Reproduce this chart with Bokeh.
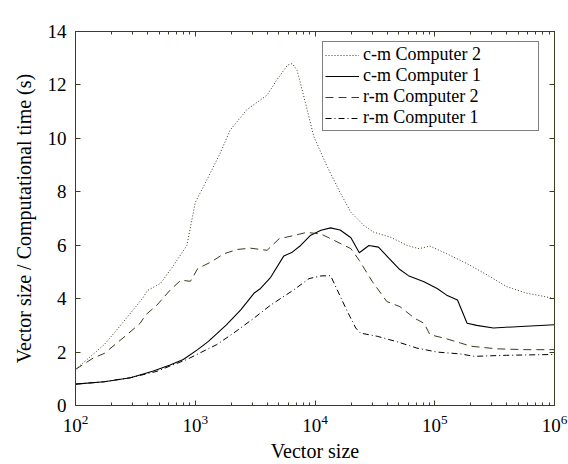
from bokeh.plotting import figure
from bokeh.models import Range1d, LinearAxis, LogAxis, Label, Legend, LegendItem, FixedTicker
from bokeh.embed import file_html
from bokeh.resources import INLINE

# ---- data (y in units of 1e6) ----
cm2_x = [100, 174, 240, 363, 398, 513, 661, 851, 1000, 1259, 1622, 1950, 2692, 3508, 3981, 4786,
         5888, 6457, 7079, 7943, 9772, 12589, 16218, 19953, 25704, 30903, 42658, 58884, 74131,
         91201, 125893, 186209, 275423, 398107, 588844, 724436, 1000000]
cm2_y = [1.35, 2.28, 3.02, 4.01, 4.30, 4.57, 5.25, 5.99, 7.6, 8.47, 9.46, 10.3, 11.07, 11.44, 11.62,
         12.18, 12.74, 12.8, 12.55, 11.69, 10.07, 8.96, 7.97, 7.23, 6.73, 6.49, 6.3, 5.99, 5.87,
         5.97, 5.68, 5.31, 4.88, 4.45, 4.2, 4.13, 4.0]

cm1_x = [100, 174, 288, 447, 617, 794, 1047, 1288, 1820, 2399, 3090, 3508, 4266, 5495, 6457, 7586,
         9120, 11220, 13490, 16218, 19953, 23442, 28184, 33884, 41687, 50119, 60256, 81283, 104713,
         125893, 154882, 186209, 223872, 309030, 524807, 1000000]
cm1_y = [0.80, 0.89, 1.04, 1.29, 1.52, 1.72, 2.09, 2.4, 3.02, 3.58, 4.2, 4.38, 4.8, 5.6, 5.74, 5.99,
         6.36, 6.56, 6.65, 6.57, 6.28, 5.72, 5.99, 5.93, 5.5, 5.12, 4.86, 4.63, 4.38, 4.13, 3.95,
         3.08, 3.0, 2.9, 2.96, 3.02]

rm2_x = [100, 141, 174, 269, 347, 385, 479, 617, 759, 912, 1047, 1349, 1738, 2239, 2884, 3981, 5012,
         6607, 8511, 11220, 14454, 19953, 23442, 30200, 39811, 51286, 67608, 81283, 91201, 120226,
         164059, 199526, 331131, 588844, 1000000]
rm2_y = [1.35, 1.78, 1.95, 2.65, 3.08, 3.39, 3.76, 4.32, 4.69, 4.65, 5.12, 5.37, 5.68, 5.84, 5.89,
         5.81, 6.24, 6.36, 6.48, 6.42, 6.18, 5.87, 5.43, 4.63, 3.89, 3.7, 3.27, 3.08, 2.65, 2.52,
         2.34, 2.22, 2.12, 2.09, 2.09]

rm1_x = [100, 174, 288, 479, 617, 851, 1096, 1514, 2089, 3090, 4266, 6607, 8913, 11220, 13490, 15136,
         18621, 21878, 23988, 33113, 48978, 70795, 104713, 164059, 213796, 398107, 1000000]
rm1_y = [0.80, 0.89, 1.04, 1.28, 1.48, 1.72, 1.97, 2.28, 2.71, 3.27, 3.76, 4.32, 4.75, 4.85, 4.86,
         4.38, 3.52, 2.9, 2.71, 2.59, 2.38, 2.15, 2.0, 1.93, 1.84, 1.88, 1.91]

series_names = ["c-m Computer 2", "c-m Computer 1", "r-m Computer 2", "r-m Computer 1"]
x_ticks = [100, 1000, 10000, 100000, 1000000]
y_ticks = [0, 2, 4, 6, 8, 10, 12, 14]

OLIVE = "#3c3c1e"
FONT = "'Liberation Serif', 'DejaVu Serif', serif"

p = figure(width=568, height=464, x_axis_type="log",
           x_range=Range1d(1e2, 1e6), y_range=Range1d(0, 14),
           output_backend="svg", toolbar_location=None,
           min_border_left=75, min_border_right=14, min_border_top=31, min_border_bottom=56)
p.grid.visible = False
p.outline_line_color = OLIVE
p.outline_line_width = 1
p.background_fill_color = "white"
p.border_fill_color = "white"

minor = [m * d for d in [100, 1000, 10000, 100000] for m in range(2, 10)]
xt = FixedTicker(ticks=x_ticks, minor_ticks=minor)
yt = FixedTicker(ticks=y_ticks, minor_ticks=[])

r1 = p.line(cm2_x, cm2_y, line_color=OLIVE, line_width=1, line_dash="1 2")
r2 = p.line(cm1_x, cm1_y, line_color="black", line_width=1.1)
r3 = p.line(rm2_x, rm2_y, line_color=OLIVE, line_width=1, line_dash="8 5")
r4 = p.line(rm1_x, rm1_y, line_color="black", line_width=1, line_dash="6 3 1 3")

def style_axis(ax, labels=True):
    ax.axis_line_color = OLIVE
    ax.major_tick_line_color = OLIVE
    ax.minor_tick_line_color = OLIVE
    ax.major_tick_in = 5
    ax.major_tick_out = 0
    ax.minor_tick_in = 3
    ax.minor_tick_out = 0
    ax.major_label_text_font = FONT
    ax.major_label_text_color = "black"
    ax.axis_label_text_font = FONT
    ax.axis_label_text_font_style = "normal"
    ax.axis_label_text_color = "black"
    if labels:
        ax.major_label_text_font_size = "19px"
        ax.axis_label_text_font_size = "20px"
        ax.major_label_standoff = 9
    else:
        ax.major_label_text_font_size = "1px"
        ax.major_label_text_alpha = 0
        ax.major_label_standoff = 0

xa = p.xaxis[0]
xa.ticker = xt
style_axis(xa)
xa.axis_label = "Vector size"
xa.axis_label_standoff = 5

ya = p.yaxis[0]
ya.ticker = yt
style_axis(ya)
ya.axis_label = "Vector size / Computational time (s)"
ya.axis_label_standoff = 10

top = LogAxis(ticker=xt)
style_axis(top, labels=False)
p.add_layout(top, "above")
right = LinearAxis(ticker=yt)
style_axis(right, labels=False)
p.add_layout(right, "right")

legend = Legend(items=[LegendItem(label=series_names[0], renderers=[r1]),
                       LegendItem(label=series_names[1], renderers=[r2]),
                       LegendItem(label=series_names[2], renderers=[r3]),
                       LegendItem(label=series_names[3], renderers=[r4])],
                location=(247, 274))
legend.label_text_font = FONT
legend.label_text_font_size = "18px"
legend.label_text_color = "black"
legend.border_line_color = "black"
legend.border_line_width = 1
legend.background_fill_color = "white"
legend.background_fill_alpha = 1
legend.glyph_width = 34
legend.glyph_height = 18
legend.label_height = 18
legend.label_width = 173
legend.label_standoff = 4
legend.spacing = 0
legend.padding = 2
legend.margin = 0
p.add_layout(legend)

p.add_layout(Label(x=100, y=14, text="×10", x_offset=1, y_offset=2, text_baseline="bottom",
                   text_font=FONT, text_font_size="19px", text_color="black"))
p.add_layout(Label(x=100, y=14, text="6", x_offset=33, y_offset=10, text_baseline="bottom",
                   text_font=FONT, text_font_size="13px", text_color="black"))

open("out.html", "w").write(file_html(p, INLINE))
